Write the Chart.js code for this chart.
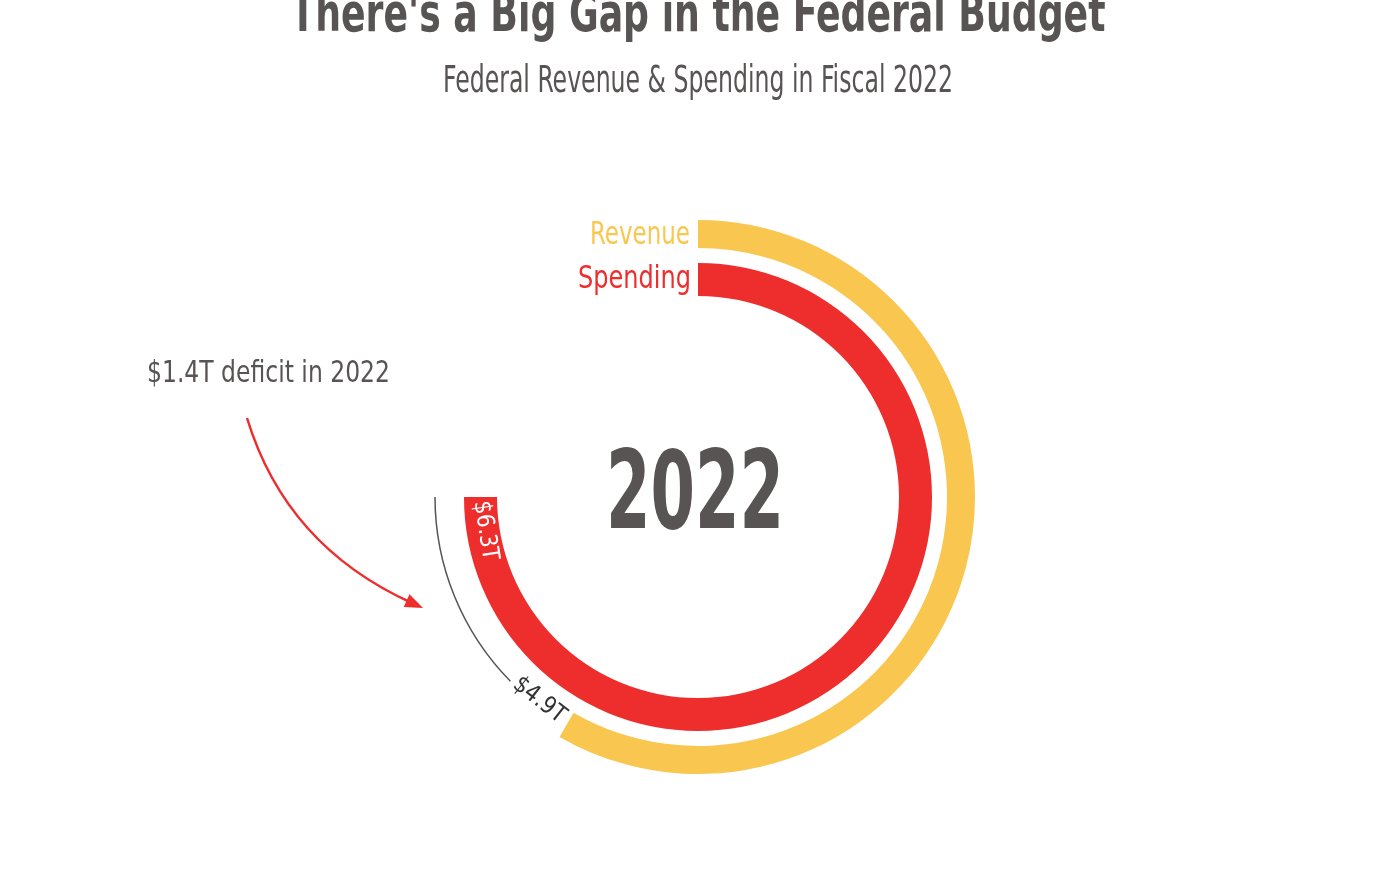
<!DOCTYPE html>
<html>
<head>
<meta charset="utf-8">
<title>Federal Revenue & Spending in Fiscal 2022</title>
<script src="https://cdn.jsdelivr.net/npm/chart.js@4.4.1/dist/chart.umd.min.js"></script>
<style>
  html, body { margin: 0; padding: 0; background: #ffffff; }
  canvas { display: block; }
</style>
</head>
<body>
<canvas id="budget" width="1400" height="874"></canvas>
<script>
// data, trillions of dollars
const year = 2022;
const categories = ['Revenue', 'Spending'];
const amounts = [4.9, 6.3];
const deficit = 1.4;
const scaleMax = 8.4; // full circle

const titleText = "There's a Big Gap in the Federal Budget";
const subtitleText = 'Federal Revenue & Spending in Fiscal 2022';

const YELLOW = '#f9c74f';
const RED = '#ee2d2d';
const GREY = '#595454';
const FONT = "'Liberation Sans Narrow', 'DejaVu Sans Condensed', 'Liberation Sans', sans-serif";

function sweep(v) { return v / scaleMax * 360; }

const overlay = {
	id: 'overlay',
	afterDraw(chart) {
		const ctx = chart.ctx;
		const rev = chart.getDatasetMeta(0).data[0];
		const spend = chart.getDatasetMeta(2).data[0];
		const cx = rev.x, cy = rev.y;
		const deg = Math.PI / 180;

		ctx.save();
		ctx.fillStyle = GREY;
		ctx.textAlign = 'center';
		ctx.textBaseline = 'alphabetic';
		ctx.font = 'bold 54px ' + FONT;
		ctx.fillText(titleText, 698, 31, 815);
		ctx.font = '37px ' + FONT;
		ctx.fillText(subtitleText, 698, 92, 510);

		// legend labels next to the start of the rings
		ctx.textAlign = 'right';
		ctx.font = '32px ' + FONT;
		ctx.fillStyle = YELLOW;
		ctx.fillText(categories[0], 690, 244, 100);
		ctx.fillStyle = RED;
		ctx.fillText(categories[1], 691, 288, 113);

		// year in the middle
		ctx.textAlign = 'center';
		ctx.fillStyle = GREY;
		ctx.font = 'bold 109px ' + FONT;
		ctx.fillText(String(year), 695, 528, 178);

		// deficit note
		ctx.textAlign = 'left';
		ctx.font = '31px ' + FONT;
		ctx.fillText('$' + deficit + 'T deficit in ' + year, 147, 382, 243);

		// thin line for the part spending covers and revenue doesn't
		const midR = (rev.innerRadius + rev.outerRadius) / 2;
		ctx.strokeStyle = '#555';
		ctx.lineWidth = 1.5;
		ctx.beginPath();
		ctx.arc(cx, cy, midR, rev.endAngle + 15.5 * deg, spend.endAngle);
		ctx.stroke();

		// arc value labels
		function arcLabel(text, ang, r, color) {
			ctx.save();
			ctx.translate(cx + r * Math.cos(ang), cy + r * Math.sin(ang));
			ctx.rotate(ang - Math.PI / 2);
			ctx.fillStyle = color;
			ctx.font = '24px ' + FONT;
			ctx.textAlign = 'center';
			ctx.textBaseline = 'middle';
			ctx.fillText(text, 0, 0, 60);
			ctx.restore();
		}
		arcLabel('$' + amounts[0] + 'T', rev.endAngle + 8 * deg, midR - 5, '#333');
		const spendMid = (spend.innerRadius + spend.outerRadius) / 2;
		arcLabel('$' + amounts[1] + 'T', spend.endAngle - 9 * deg, spendMid - 2, '#fff');

		// curved arrow
		ctx.strokeStyle = RED;
		ctx.fillStyle = RED;
		ctx.lineWidth = 2.5;
		ctx.beginPath();
		ctx.moveTo(247, 418);
		ctx.quadraticCurveTo(286, 546, 412, 603);
		ctx.stroke();
		const a = Math.atan2(608 - 546, 422 - 286);
		ctx.save();
		ctx.translate(423, 608);
		ctx.rotate(a);
		ctx.beginPath();
		ctx.moveTo(0, 0);
		ctx.lineTo(-18, -7);
		ctx.lineTo(-18, 7);
		ctx.closePath();
		ctx.fill();
		ctx.restore();

		ctx.restore();
	}
};

const ctx = document.getElementById('budget');
new Chart(ctx, {
	type: 'doughnut',
	data: {
		labels: [year],
		datasets: [{
			label: categories[0],
			data: [amounts[0]],
			backgroundColor: YELLOW,
			borderWidth: 0,
			weight: 28,
			circumference: sweep(amounts[0])
		}, {
			label: 'gap',
			data: [scaleMax],
			backgroundColor: 'rgba(0,0,0,0)',
			borderWidth: 0,
			weight: 15,
			circumference: 360
		}, {
			label: categories[1],
			data: [amounts[1]],
			backgroundColor: RED,
			borderWidth: 0,
			weight: 33,
			circumference: sweep(amounts[1])
		}]
	},
	options: {
		responsive: false,
		animation: false,
		cutout: 201,
		layout: { padding: { top: 220, bottom: 100, left: 0, right: 4 } },
		plugins: {
			legend: { display: false },
			tooltip: { enabled: false }
		}
	},
	plugins: [overlay]
});
</script>
</body>
</html>
